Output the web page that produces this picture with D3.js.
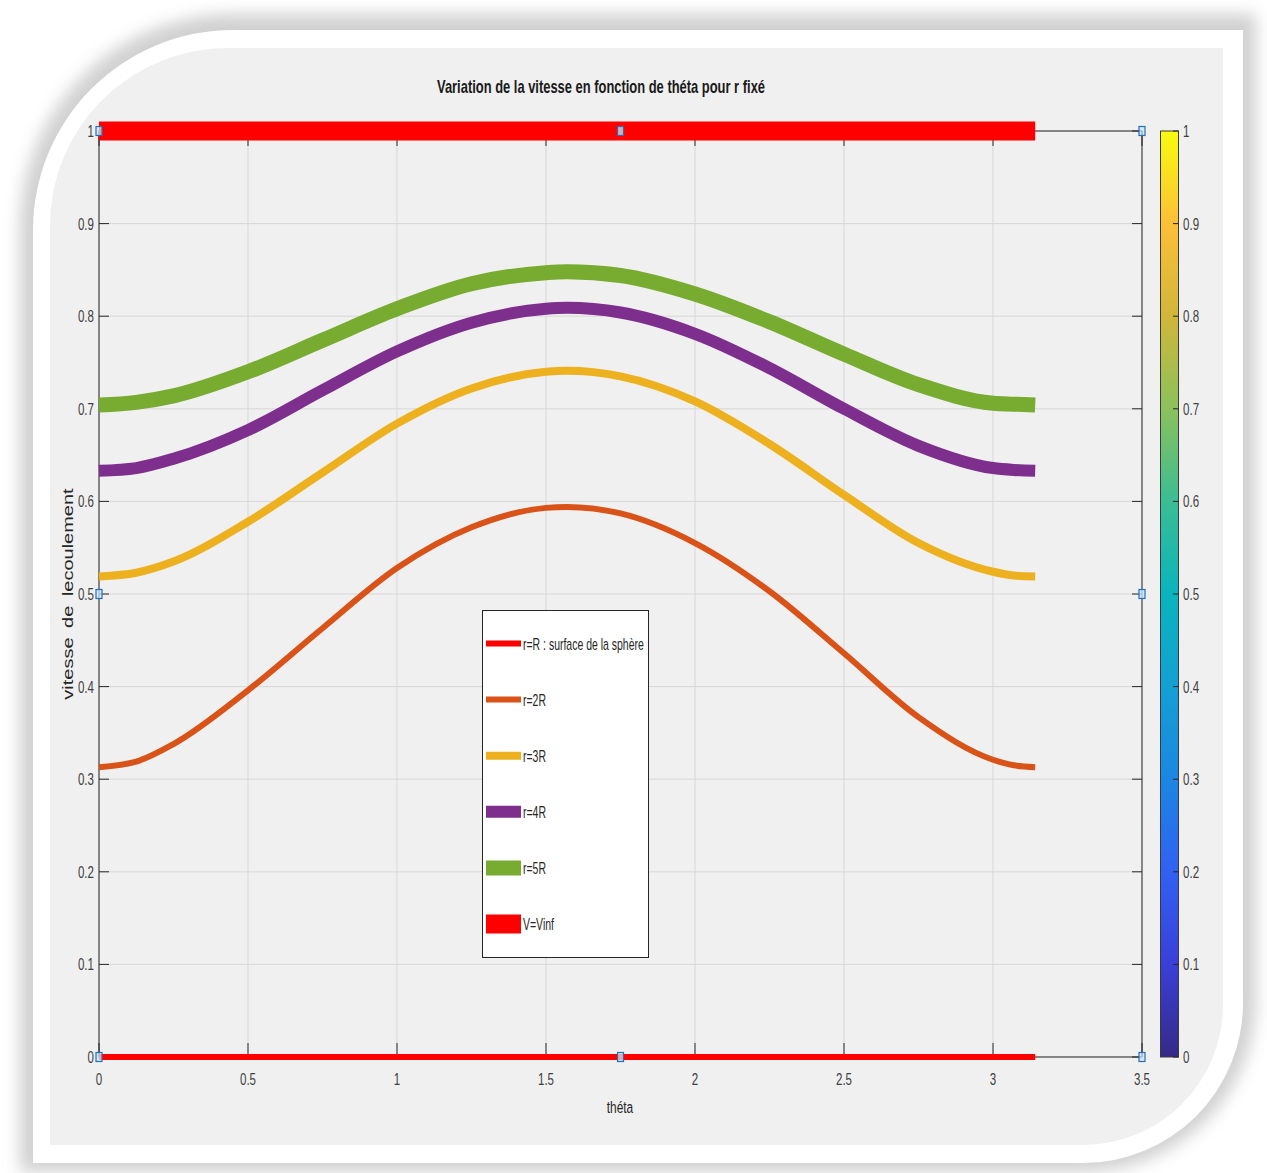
<!DOCTYPE html>
<html>
<head>
<meta charset="utf-8">
<script src="https://cdn.jsdelivr.net/npm/d3@7"></script>
<style>
  body { margin: 0; background: #fff; }
  svg { display: block; }
  text { font-family: "Liberation Sans", Arial, Helvetica, sans-serif; }
</style>
</head>
<body>
<svg id="chart" width="1267" height="1173"></svg>
<script>
// values (theta in rad, speed ratio V/Vinf)
const theta = [0, 0.125, 0.25, 0.5, 0.75, 1, 1.25, 1.5, 1.5708, 1.75, 2, 2.25, 2.5, 2.75, 3, 3.07, 3.1416];
const rR   = [0, 0, 0, 0, 0, 0, 0, 0, 0, 0, 0, 0, 0, 0, 0, 0, 0];
const r2R  = [0.313, 0.319, 0.338, 0.396, 0.463, 0.528, 0.572, 0.593, 0.594, 0.587, 0.555, 0.503, 0.436, 0.367, 0.321, 0.315, 0.313];
const r3R  = [0.519, 0.523, 0.535, 0.578, 0.631, 0.684, 0.722, 0.740, 0.741, 0.735, 0.708, 0.662, 0.607, 0.555, 0.524, 0.520, 0.519];
const r4R  = [0.633, 0.636, 0.646, 0.677, 0.720, 0.762, 0.793, 0.808, 0.809, 0.804, 0.781, 0.744, 0.700, 0.660, 0.636, 0.634, 0.633];
const r5R  = [0.704, 0.707, 0.714, 0.740, 0.774, 0.808, 0.835, 0.847, 0.848, 0.844, 0.824, 0.794, 0.759, 0.726, 0.706, 0.705, 0.704];
const vInf = [1, 1, 1, 1, 1, 1, 1, 1, 1, 1, 1, 1, 1, 1, 1, 1, 1];

const seriesNames = ["r=R : surface de la sphère", "r=2R", "r=3R", "r=4R", "r=5R", "V=Vinf"];
const seriesColors = ["#ff0000", "#d95319", "#edb120", "#7e2f8e", "#77ac30", "#ff0000"];
const seriesWidths = [6, 6, 8, 12, 15, 19];

const xTicks = [0, 0.5, 1, 1.5, 2, 2.5, 3, 3.5];
const yTicks = [0, 0.1, 0.2, 0.3, 0.4, 0.5, 0.6, 0.7, 0.8, 0.9, 1];
const cbTicks = [0, 0.1, 0.2, 0.3, 0.4, 0.5, 0.6, 0.7, 0.8, 0.9, 1];

// parula-like colorbar
const cbStops  = [0, 0.1, 0.2, 0.3, 0.4, 0.5, 0.6, 0.7, 0.8, 0.9, 1];
const cbColors = ["#352a87", "#3a3fd8", "#3161f2", "#1c86e2", "#14a0d3", "#0ab4bd",
                  "#3bbd94", "#8bc15c", "#d1b63b", "#fcbf38", "#f9fb0e"];

const allSeries = [rR, r2R, r3R, r4R, r5R, vInf].map((vals, i) => ({
  name: seriesNames[i], color: seriesColors[i], width: seriesWidths[i],
  points: theta.map((t, j) => [t, vals[j]])
}));

const svg = d3.select("#chart");
const axisColor = "#262626";
const sq = 0.7; // the whole screenshot is squeezed horizontally

const x = d3.scaleLinear().domain([0, 3.5]).range([99, 1142]);
const y = d3.scaleLinear().domain([0, 1]).range([1057, 131]);

// ---- frame, shadow, panel
const defs = svg.append("defs");
defs.append("filter").attr("id", "blur").attr("x", "-10%").attr("y", "-10%")
  .attr("width", "120%").attr("height", "120%")
  .append("feGaussianBlur").attr("stdDeviation", 8);

const outerPath = "M33,230 A200,200 0 0 1 233,30 H1243 V1003 A160,160 0 0 1 1083,1163 H33 Z";
const shadowPath = "M20,230 A213,213 0 0 1 233,14 H1256 V1003 A173,173 0 0 1 1083,1172 H20 Z";
const panelPath = "M50,228 A178,178 0 0 1 228,48 H1223 V1005 A140,140 0 0 1 1083,1145 H50 Z";

svg.append("path").attr("d", shadowPath).attr("fill", "#bdbdbd").attr("opacity", 0.7)
  .attr("filter", "url(#blur)");
svg.append("path").attr("d", outerPath).attr("fill", "#ffffff");
svg.append("path").attr("d", panelPath).attr("fill", "#f0f0f0");

// ---- grid
const grid = svg.append("g");
grid.selectAll(".gx").data(xTicks).join("line")
  .attr("x1", d => x(d)).attr("x2", d => x(d))
  .attr("y1", y(0)).attr("y2", y(1))
  .attr("stroke", "#d7d7d7").attr("stroke-width", 1);
grid.selectAll(".gy").data(yTicks).join("line")
  .attr("class", "gy")
  .attr("x1", x(0)).attr("x2", x(3.5))
  .attr("y1", d => y(d)).attr("y2", d => y(d))
  .attr("stroke", "#d7d7d7").attr("stroke-width", 1);

// ---- axes box and ticks
const ax = svg.append("g").attr("stroke", axisColor).attr("stroke-width", 1);
ax.append("rect").attr("x", x(0)).attr("y", y(1))
  .attr("width", x(3.5) - x(0)).attr("height", y(0) - y(1))
  .attr("fill", "none");
ax.selectAll(".tb").data(xTicks).join("line").attr("class", "tb")
  .attr("x1", d => x(d)).attr("x2", d => x(d))
  .attr("y1", y(0)).attr("y2", y(0) - 14);
ax.selectAll(".tt").data(xTicks).join("line").attr("class", "tt")
  .attr("x1", d => x(d)).attr("x2", d => x(d))
  .attr("y1", y(1)).attr("y2", y(1) + 15);
ax.selectAll(".tl").data(yTicks).join("line").attr("class", "tl")
  .attr("x1", x(0)).attr("x2", x(0) + 10)
  .attr("y1", d => y(d)).attr("y2", d => y(d));
ax.selectAll(".tr").data(yTicks).join("line").attr("class", "tr")
  .attr("x1", x(3.5)).attr("x2", x(3.5) - 10)
  .attr("y1", d => y(d)).attr("y2", d => y(d));

// ---- curves
const line = d3.line().x(d => x(d[0])).y(d => y(d[1])).curve(d3.curveMonotoneX);
svg.append("g").selectAll("path").data(allSeries).join("path")
  .attr("d", d => line(d.points))
  .attr("fill", "none")
  .attr("stroke", d => d.color)
  .attr("stroke-width", d => d.width)
  .attr("stroke-linejoin", "round");

// ---- selection handles of the axes
const handles = [[0, 1], [1.75, 1], [3.5, 1], [0, 0.5], [3.5, 0.5], [0, 0], [1.75, 0], [3.5, 0]];
svg.append("g").selectAll("rect").data(handles).join("rect")
  .attr("x", d => x(d[0]) - 3).attr("y", d => y(d[1]) - 4.5)
  .attr("width", 6).attr("height", 9)
  .attr("fill", "rgba(205,228,248,0.75)")
  .attr("stroke", "#2270b8").attr("stroke-width", 1.2);

// ---- tick labels (condensed)
const fmt = d => String(+d.toFixed(2));
const lab = svg.append("g").attr("fill", "#404040").attr("font-size", 16.5);
lab.selectAll(".yl").data(yTicks).join("text")
  .attr("transform", d => `translate(94,${y(d) + 6}) scale(${sq},1)`)
  .attr("text-anchor", "end").text(fmt);
lab.selectAll(".xl").data(xTicks).join("text")
  .attr("transform", d => `translate(${x(d)},${y(0) + 28}) scale(${sq},1)`)
  .attr("text-anchor", "middle").text(fmt);

// ---- title and axis labels
svg.append("text")
  .attr("x", 601).attr("y", 93)
  .attr("text-anchor", "middle")
  .attr("font-size", 19).attr("font-weight", "bold").attr("fill", "#1a1a1a")
  .attr("textLength", 328).attr("lengthAdjust", "spacingAndGlyphs")
  .text("Variation de la vitesse en fonction de théta pour r fixé");

svg.append("text")
  .attr("transform", `translate(620,1113) scale(${sq},1)`)
  .attr("text-anchor", "middle").attr("font-size", 17).attr("fill", "#262626")
  .text("théta");

svg.append("text")
  .attr("transform", `translate(73,594) scale(${sq},1) rotate(-90)`)
  .attr("text-anchor", "middle").attr("font-size", 20).attr("fill", "#262626")
  .attr("word-spacing", 4)
  .text("vitesse de lecoulement");

// ---- legend
const leg = svg.append("g");
leg.append("rect").attr("x", 482.5).attr("y", 610.5).attr("width", 166).attr("height", 347)
  .attr("fill", "#ffffff").attr("stroke", axisColor).attr("stroke-width", 1);
const legY = d3.scalePoint().domain(seriesNames).range([643.5, 924]);
const items = leg.selectAll("g.item").data(allSeries).join("g").attr("class", "item")
  .attr("transform", d => `translate(0,${legY(d.name)})`);
items.append("line").attr("x1", 486).attr("x2", 521).attr("y1", 0).attr("y2", 0)
  .attr("stroke", d => d.color).attr("stroke-width", d => d.width);
items.append("text")
  .attr("transform", `translate(523,6) scale(0.655,1)`)
  .attr("font-size", 16).attr("fill", "#262626")
  .text(d => d.name);

// ---- colorbar
const cbY = d3.scaleLinear().domain([0, 1]).range([1057, 131]);
const grad = defs.append("linearGradient").attr("id", "parula")
  .attr("x1", 0).attr("y1", 1).attr("x2", 0).attr("y2", 0);
grad.selectAll("stop").data(cbStops).join("stop")
  .attr("offset", d => d).attr("stop-color", (d, i) => cbColors[i]);
const cb = svg.append("g");
cb.append("rect").attr("x", 1160.5).attr("y", cbY(1)).attr("width", 18).attr("height", cbY(0) - cbY(1))
  .attr("fill", "url(#parula)").attr("stroke", "#3a3a3a").attr("stroke-width", 1);
cb.selectAll("line").data(cbTicks).join("line")
  .attr("x1", 1178.5).attr("x2", 1173).attr("y1", d => cbY(d)).attr("y2", d => cbY(d))
  .attr("stroke", axisColor);
cb.selectAll("text").data(cbTicks).join("text")
  .attr("transform", d => `translate(1183,${cbY(d) + 6}) scale(${sq},1)`)
  .attr("font-size", 16.5).attr("fill", "#404040")
  .text(fmt);
</script>
</body>
</html>
